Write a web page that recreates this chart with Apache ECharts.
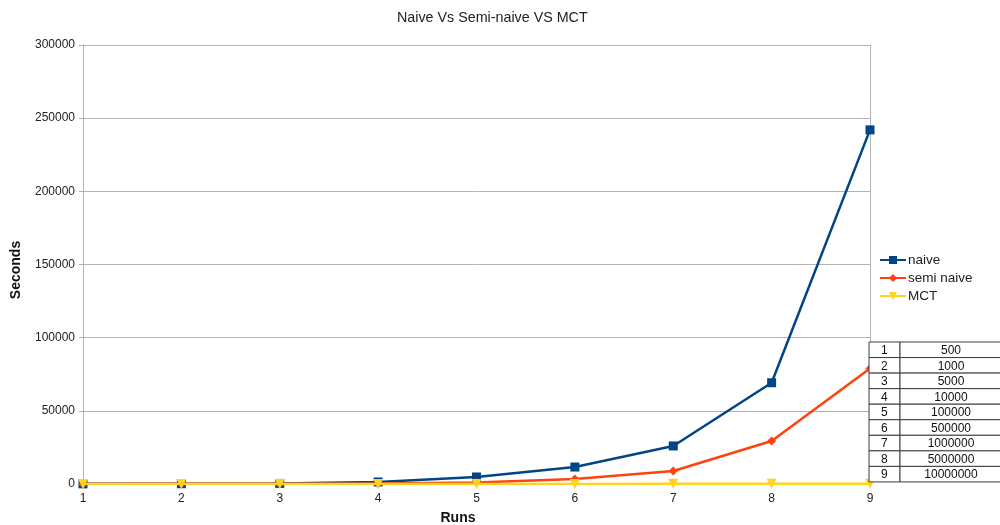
<!DOCTYPE html>
<html>
<head>
<meta charset="utf-8">
<script src="https://cdn.jsdelivr.net/npm/echarts@6/dist/echarts.min.js"></script>
<style>
  html, body { margin: 0; padding: 0; background: #fff; }
  #chart { width: 1000px; height: 525px; }
</style>
</head>
<body>
<div id="chart"></div>
<script>
// Run numbers on the x axis
const runs = ['1', '2', '3', '4', '5', '6', '7', '8', '9'];
// Seconds taken by each approach
const naive = [100, 200, 400, 1400, 4800, 11600, 26000, 69200, 242000];
const semiNaive = [50, 100, 200, 400, 1000, 3400, 8900, 29400, 79000];
const mct = [10, 20, 30, 40, 60, 80, 100, 150, 200];
// Input size for each run, listed in the side table
const runSizes = ['500', '1000', '5000', '10000', '100000', '500000', '1000000', '5000000', '10000000'];

const FONT = '"Liberation Sans", Arial, sans-serif';
const GRID = { left: 83, right: 130, top: 45, bottom: 41, containLabel: false, outerBoundsMode: 'none' };

// Side table: run number | input size
const tableX = 869, tableY = 342, rowH = 15.55, col1W = 31, col2W = 140;
const graphics = [];
runs.forEach((r, i) => {
  const y = tableY + i * rowH;
  graphics.push({
    type: 'rect', shape: { x: tableX, y: y, width: col1W, height: rowH },
    style: { fill: '#fff', stroke: '#3c3c3c', lineWidth: 1 }, z: 10
  });
  graphics.push({
    type: 'rect', shape: { x: tableX + col1W, y: y, width: col2W, height: rowH },
    style: { fill: '#fff', stroke: '#3c3c3c', lineWidth: 1 }, z: 10
  });
  graphics.push({
    type: 'text', x: tableX + 12, y: y + rowH / 2 + 1,
    style: { text: r, font: '12px ' + FONT, fill: '#111', textVerticalAlign: 'middle' }, z: 11
  });
  graphics.push({
    type: 'text', x: tableX + col1W + 51, y: y + rowH / 2 + 1,
    style: { text: runSizes[i], font: '12px ' + FONT, fill: '#111', textAlign: 'center', textVerticalAlign: 'middle' }, z: 11
  });
});

// Axis titles
graphics.push({
  type: 'text', x: 458, y: 518,
  style: { text: 'Runs', font: 'bold 14px ' + FONT, fill: '#111', textAlign: 'center', textVerticalAlign: 'middle' }
});
graphics.push({
  type: 'text', x: 16, y: 270, rotation: Math.PI / 2,
  style: { text: 'Seconds', font: 'bold 14px ' + FONT, fill: '#111', textAlign: 'center', textVerticalAlign: 'middle' }
});

const chart = echarts.init(document.getElementById('chart'), null, { renderer: 'canvas' });
chart.setOption({
  animation: false,
  backgroundColor: '#fff',
  textStyle: { fontFamily: FONT },
  title: {
    text: 'Naive Vs Semi-naive VS MCT',
    left: 392, top: 6,
    textStyle: { fontSize: 14.3, fontWeight: 'normal', color: '#222', fontFamily: FONT }
  },
  legend: {
    orient: 'vertical', left: 874, top: 248,
    itemWidth: 26, itemHeight: 10, itemGap: 4,
    textStyle: { fontSize: 13.5, color: '#222', fontFamily: FONT, padding: [0, 0, 0, -3] },
    data: ['naive', 'semi naive', 'MCT']
  },
  grid: GRID,
  xAxis: {
    type: 'category', data: runs, boundaryGap: false,
    axisLine: { show: true, lineStyle: { color: '#b3b3b3', width: 1 } },
    axisTick: { show: false },
    axisLabel: { fontSize: 12, color: '#222', margin: 9, fontFamily: FONT },
    splitLine: { show: false }
  },
  yAxis: [{
    type: 'value', min: 0, max: 300000, interval: 50000,
    axisLine: { show: true, lineStyle: { color: '#b3b3b3', width: 1 } },
    axisTick: { show: true, length: 4, lineStyle: { color: '#b3b3b3' } },
    axisLabel: { fontSize: 12, color: '#222', margin: 8, fontFamily: FONT, formatter: v => String(v) },
    splitLine: { show: true, lineStyle: { color: '#b3b3b3', width: 1 } }
  }, {
    type: 'value', position: 'right', min: 0, max: 300000, interval: 50000,
    axisLine: { show: true, lineStyle: { color: '#b3b3b3', width: 1 } },
    axisTick: { show: false }, axisLabel: { show: false }, splitLine: { show: false }
  }],
  series: [{
    name: 'naive', type: 'line', data: naive,
    symbol: 'rect', symbolSize: 9, showAllSymbol: true,
    itemStyle: { color: '#004586' },
    lineStyle: { color: '#004586', width: 2.5 }, z: 3
  }, {
    name: 'semi naive', type: 'line', data: semiNaive,
    symbol: 'diamond', symbolSize: 9, showAllSymbol: true,
    itemStyle: { color: '#ff420e' },
    lineStyle: { color: '#ff420e', width: 2.5 }, z: 4
  }, {
    name: 'MCT', type: 'line', data: mct,
    symbol: 'triangle', symbolRotate: 180, symbolSize: 10, showAllSymbol: true,
    itemStyle: { color: '#ffd320' },
    lineStyle: { color: '#ffd320', width: 2.5 }, z: 5
  }],
  graphic: graphics
});
</script>
</body>
</html>
